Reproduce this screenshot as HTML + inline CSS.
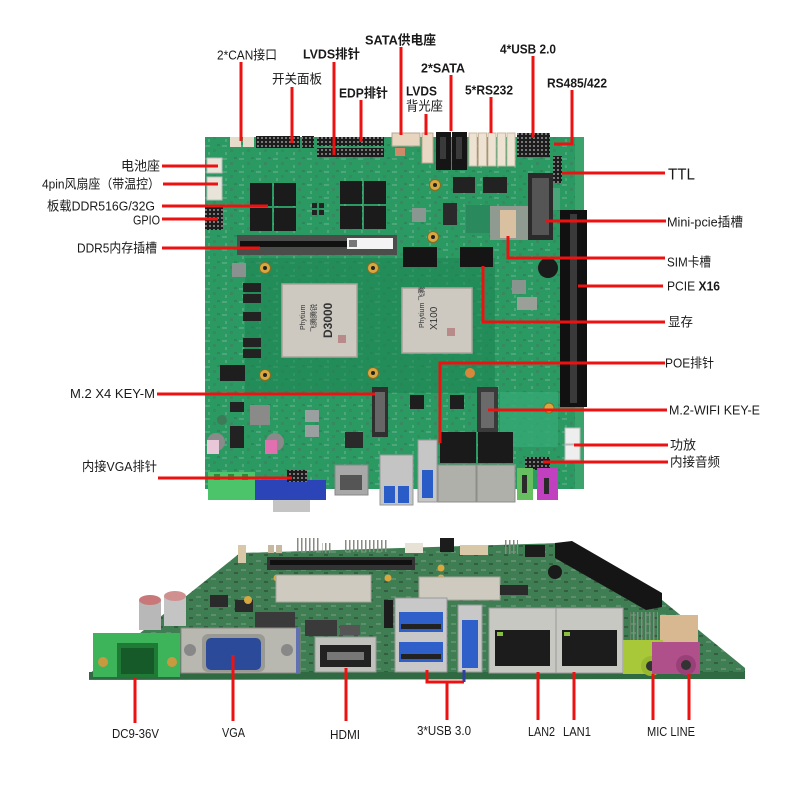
<!DOCTYPE html>
<html><head><meta charset="utf-8">
<style>
html,body{margin:0;padding:0;background:#fff;}
svg{display:block;}
text{font-family:"Liberation Sans","Noto Sans CJK SC",sans-serif;fill:#1a1a1a;font-size:13px;}
.b{font-weight:bold;}
</style></head><body>
<svg width="800" height="800" viewBox="0 0 800 800" xmlns="http://www.w3.org/2000/svg">
<defs>
<pattern id="tex" width="17" height="13" patternUnits="userSpaceOnUse">
 <rect x="1" y="2" width="5" height="2" fill="#8fbcaa" opacity=".35"/>
 <rect x="9" y="6" width="3" height="3" fill="#4e6e62" opacity=".4"/>
 <rect x="4" y="9" width="2" height="3" fill="#b8d0c4" opacity=".25"/>
 <rect x="13" y="1" width="3" height="2" fill="#3f5d52" opacity=".35"/>
</pattern>
<pattern id="tex2" width="15" height="9" patternUnits="userSpaceOnUse">
 <rect x="1" y="2" width="5" height="2" fill="#8aa896" opacity=".4"/>
 <rect x="9" y="5" width="4" height="2" fill="#2a3e32" opacity=".5"/>
</pattern>
<pattern id="pins" width="4" height="4" patternUnits="userSpaceOnUse"><rect width="4" height="4" fill="#1c1c1c"/><rect x="1" y="1" width="2" height="2" fill="#777"/></pattern>
<pattern id="vp" width="4" height="10" patternUnits="userSpaceOnUse"><rect width="4" height="10" fill="none"/><rect x="1" y="0" width="1.5" height="10" fill="#8a8a80"/></pattern>
</defs>

<!-- ================= TOP BOARD ================= -->
<rect x="205" y="137" width="379" height="352" fill="#2a9a62"/>
<rect x="205" y="137" width="379" height="352" fill="url(#tex)"/>
<rect x="245" y="258" width="250" height="135" fill="#1c8450" opacity="0.55"/>
<rect x="500" y="392" width="58" height="55" fill="#35a874" opacity="0.8"/>
<rect x="575" y="137" width="9" height="352" fill="#3aa46c"/>
<rect x="542" y="188" width="18" height="22" fill="#4aa47a"/>

<!-- top headers -->
<rect x="230" y="137" width="11" height="10" fill="#e6dccb"/>
<rect x="243" y="137" width="11" height="10" fill="#e6dccb"/>
<rect x="256" y="136" width="44" height="12" fill="url(#pins)"/>
<rect x="302" y="136" width="12" height="12" fill="url(#pins)"/>
<rect x="317" y="137" width="67" height="9" fill="url(#pins)"/>
<rect x="317" y="148" width="67" height="9" fill="url(#pins)"/>
<rect x="392" y="133" width="28" height="13" fill="#e8d5bf" stroke="#b8a58f" stroke-width="1"/>
<rect x="395" y="148" width="10" height="8" fill="#d08a6a"/>
<rect x="422" y="133" width="11" height="30" fill="#e8d8c4" stroke="#bba890" stroke-width="1"/>
<rect x="436" y="132" width="15" height="38" fill="#151515"/>
<rect x="440" y="137" width="6" height="22" fill="#3a3a3a"/>
<rect x="452" y="132" width="15" height="38" fill="#151515"/>
<rect x="456" y="137" width="6" height="22" fill="#3a3a3a"/>
<rect x="469" y="133" width="8" height="33" fill="#eee3d3" stroke="#c8b8a0" stroke-width="1"/>
<rect x="478.5" y="133" width="8" height="33" fill="#eee3d3" stroke="#c8b8a0" stroke-width="1"/>
<rect x="488" y="133" width="8" height="33" fill="#eee3d3" stroke="#c8b8a0" stroke-width="1"/>
<rect x="497.5" y="133" width="8" height="33" fill="#eee3d3" stroke="#c8b8a0" stroke-width="1"/>
<rect x="507" y="133" width="8" height="33" fill="#eee3d3" stroke="#c8b8a0" stroke-width="1"/>
<rect x="517" y="133" width="33" height="24" fill="url(#pins)"/>
<rect x="553" y="156" width="9" height="27" fill="url(#pins)"/>

<!-- left connectors -->
<rect x="207" y="158" width="15" height="15" fill="#e9e4da" stroke="#bbb" stroke-width="1"/>
<rect x="207" y="177" width="15" height="23" fill="#e9e4da" stroke="#bbb" stroke-width="1"/>
<rect x="205" y="207" width="18" height="23" fill="url(#pins)"/>

<!-- DDR chips -->
<rect x="250" y="183" width="22" height="23" fill="#1b1b1b"/>
<rect x="274" y="183" width="22" height="23" fill="#1b1b1b"/>
<rect x="250" y="208" width="22" height="23" fill="#1b1b1b"/>
<rect x="274" y="208" width="22" height="23" fill="#1b1b1b"/>
<rect x="340" y="181" width="22" height="23" fill="#1b1b1b"/>
<rect x="364" y="181" width="22" height="23" fill="#1b1b1b"/>
<rect x="340" y="206" width="22" height="23" fill="#1b1b1b"/>
<rect x="364" y="206" width="22" height="23" fill="#1b1b1b"/>
<rect x="312" y="203" width="5" height="5" fill="#222"/><rect x="319" y="203" width="5" height="5" fill="#222"/>
<rect x="312" y="210" width="5" height="5" fill="#222"/><rect x="319" y="210" width="5" height="5" fill="#222"/>
<rect x="453" y="177" width="22" height="16" fill="#222"/>
<rect x="483" y="177" width="24" height="16" fill="#222"/>
<rect x="443" y="203" width="14" height="22" fill="#2a2a2a"/>
<rect x="412" y="208" width="14" height="14" fill="#8a9690"/>
<rect x="466" y="205" width="24" height="28" fill="#2a8a5e"/>

<!-- DIMM slot -->
<rect x="237" y="235" width="160" height="20" fill="#4a4d4a"/>
<rect x="240" y="241" width="153" height="6" fill="#111"/>
<rect x="347" y="238" width="46" height="11" fill="#f4f4f4"/>
<rect x="349" y="240" width="8" height="7" fill="#777"/>

<!-- mini pcie / sim / pcie -->
<rect x="528" y="173" width="25" height="67" fill="#2a2a2a"/>
<rect x="532" y="178" width="17" height="57" fill="#555"/>
<rect x="490" y="206" width="38" height="34" fill="#8f9a90"/>
<rect x="500" y="210" width="16" height="28" fill="#d8c0a0"/>
<rect x="560" y="210" width="27" height="197" fill="#111"/>
<rect x="570" y="214" width="7" height="189" fill="#3a3a3a"/>
<circle cx="548" cy="268" r="10" fill="#1a1a1a"/>

<!-- graphics memory -->
<rect x="403" y="247" width="34" height="20" fill="#151515"/>
<rect x="460" y="247" width="33" height="20" fill="#151515"/>
<rect x="512" y="280" width="14" height="14" fill="#8a948e"/>
<rect x="517" y="297" width="20" height="13" fill="#9aa098"/>

<!-- CPUs -->
<rect x="282" y="284" width="75" height="73" fill="#cdc9c1" stroke="#a8a49c" stroke-width="1.5"/>
<text transform="translate(305,330) rotate(-90)" style="font-size:7px;fill:#333">Phytium</text>
<text transform="translate(316,332) rotate(-90)" style="font-size:7px;fill:#333">飞腾腾锐</text>
<text transform="translate(332,338) rotate(-90)" style="font-size:12px;fill:#333;font-weight:bold">D3000</text>
<rect x="338" y="335" width="8" height="8" fill="#b88a8a"/>
<rect x="402" y="288" width="70" height="65" fill="#cdc9c1" stroke="#a8a49c" stroke-width="1.5"/>
<text transform="translate(424,328) rotate(-90)" style="font-size:7px;fill:#333">Phytium 飞腾</text>
<text transform="translate(437,330) rotate(-90)" style="font-size:10px;fill:#333">X100</text>
<rect x="447" y="328" width="8" height="8" fill="#b88a8a"/>

<!-- gold holes -->
<g fill="#d8a840" stroke="#8a6a20" stroke-width="1">
<circle cx="265" cy="268" r="5.5"/><circle cx="373" cy="268" r="5.5"/>
<circle cx="265" cy="375" r="5.5"/><circle cx="373" cy="373" r="5.5"/>
<circle cx="435" cy="185" r="5.5"/><circle cx="433" cy="237" r="5.5"/>
<circle cx="549" cy="408" r="5"/>
</g>
<g fill="#222"><circle cx="265" cy="268" r="2"/><circle cx="373" cy="268" r="2"/><circle cx="265" cy="375" r="2"/><circle cx="373" cy="373" r="2"/><circle cx="435" cy="185" r="2"/><circle cx="433" cy="237" r="2"/></g>

<!-- left side parts -->
<rect x="243" y="283" width="18" height="9" fill="#222"/>
<rect x="243" y="294" width="18" height="9" fill="#222"/>
<rect x="243" y="312" width="18" height="9" fill="#222"/>
<rect x="243" y="338" width="18" height="9" fill="#222"/>
<rect x="243" y="349" width="18" height="9" fill="#222"/>
<rect x="220" y="365" width="25" height="16" fill="#1e1e1e"/>
<rect x="232" y="263" width="14" height="14" fill="#8a9290"/>
<rect x="250" y="405" width="20" height="20" fill="#8a8a88"/>
<rect x="230" y="402" width="14" height="10" fill="#222"/>
<rect x="230" y="426" width="14" height="22" fill="#222"/>
<rect x="305" y="410" width="14" height="12" fill="#9aa0a0"/>
<rect x="305" y="425" width="14" height="12" fill="#9aa0a0"/>
<rect x="345" y="432" width="18" height="16" fill="#2a2a2a"/>
<circle cx="216" cy="442" r="9" fill="#8a8a8a"/>
<rect x="207" y="440" width="12" height="14" fill="#e8c8d8"/>
<circle cx="275" cy="442" r="9" fill="#8a8a8a"/>
<rect x="265" y="440" width="12" height="14" fill="#e070b0"/>
<circle cx="222" cy="420" r="5" fill="#3c7a58"/>

<!-- M.2 slots -->
<rect x="372" y="387" width="16" height="50" fill="#2f2f2f"/>
<rect x="375" y="392" width="10" height="40" fill="#666"/>
<rect x="477" y="387" width="21" height="45" fill="#3a3a3a"/>
<rect x="481" y="392" width="13" height="36" fill="#6a6a6a"/>
<rect x="410" y="395" width="14" height="14" fill="#1e1e1e"/>
<rect x="450" y="395" width="14" height="14" fill="#1e1e1e"/>
<circle cx="470" cy="373" r="5" fill="#d8883a"/>

<!-- bottom edge top-view connectors -->
<rect x="440" y="432" width="36" height="31" fill="#1a1a1a"/>
<rect x="478" y="432" width="35" height="31" fill="#1a1a1a"/>
<rect x="438" y="465" width="38" height="37" fill="#b0b0aa" stroke="#8e8e88" stroke-width="1"/>
<rect x="477" y="465" width="38" height="37" fill="#b0b0aa" stroke="#8e8e88" stroke-width="1"/>
<rect x="565" y="428" width="15" height="16" fill="#eee" stroke="#bbb" stroke-width="1"/>
<rect x="565" y="445" width="15" height="15" fill="#eee" stroke="#bbb" stroke-width="1"/>
<rect x="525" y="457" width="25" height="13" fill="url(#pins)"/>
<rect x="517" y="468" width="16" height="32" fill="#66c060"/>
<rect x="522" y="475" width="5" height="18" fill="#2a2a2a"/>
<rect x="537" y="468" width="21" height="32" fill="#c040c0"/>
<rect x="544" y="478" width="5" height="16" fill="#2a2a2a"/>
<rect x="418" y="440" width="19" height="62" fill="#c6c6c6" stroke="#999" stroke-width="1"/>
<rect x="422" y="470" width="11" height="28" fill="#2a5cc8"/>
<rect x="380" y="455" width="33" height="50" fill="#c4c4c4" stroke="#999" stroke-width="1"/>
<rect x="384" y="486" width="11" height="17" fill="#2a5cc8"/>
<rect x="398" y="486" width="11" height="17" fill="#2a5cc8"/>
<rect x="335" y="465" width="33" height="30" fill="#a8a8a8" stroke="#888" stroke-width="1"/>
<rect x="340" y="475" width="22" height="15" fill="#555"/>
<rect x="255" y="480" width="71" height="20" fill="#2b45b8"/>
<rect x="273" y="500" width="37" height="12" fill="#c4c4c4"/>
<rect x="287" y="470" width="20" height="12" fill="url(#pins)"/>
<rect x="208" y="472" width="47" height="28" fill="#4cc46a"/>
<rect x="214" y="474" width="6" height="6" fill="#2a8a3a"/><rect x="228" y="474" width="6" height="6" fill="#2a8a3a"/><rect x="242" y="474" width="6" height="6" fill="#2a8a3a"/>

<!-- ================= BOTTOM BOARD (perspective) ================= -->
<polygon points="89,674 240,553 560,543 662,600 745,668 745,679 89,680" fill="#3f7d52"/>
<polygon points="89,674 240,553 560,543 662,600 745,668 745,679 89,680" fill="url(#tex2)"/>
<rect x="89" y="672" width="656" height="7" fill="#2f6a42"/>
<!-- back headers -->
<rect x="238" y="545" width="8" height="18" fill="#d8c8a8"/>
<rect x="268" y="545" width="6" height="8" fill="#c8b8a0"/><rect x="276" y="545" width="6" height="8" fill="#c8b8a0"/>
<rect x="297" y="538" width="22" height="14" fill="url(#vp)"/>
<rect x="322" y="543" width="10" height="10" fill="url(#vp)"/>
<rect x="345" y="540" width="42" height="12" fill="url(#vp)"/>
<rect x="405" y="543" width="18" height="10" fill="#e8e2d6"/>
<rect x="440" y="538" width="14" height="14" fill="#1c1c1c"/>
<rect x="460" y="545" width="28" height="10" fill="#d8c8a8"/>
<rect x="504" y="540" width="14" height="14" fill="url(#vp)"/>
<rect x="525" y="545" width="20" height="12" fill="#1c1c1c"/>
<circle cx="555" cy="572" r="7" fill="#1a1a1a"/>
<!-- pcie slot -->
<polygon points="555,543 572,541 662,593 662,607 646,610 555,558" fill="#151515"/>
<!-- dimm -->
<rect x="267" y="557" width="148" height="13" fill="#333"/>
<rect x="270" y="560" width="142" height="5" fill="#111"/>
<circle cx="277" cy="578" r="3.5" fill="#d8a840"/><circle cx="388" cy="578" r="3.5" fill="#d8a840"/>
<circle cx="441" cy="568" r="3.5" fill="#d8a840"/><circle cx="441" cy="578" r="3.5" fill="#d8a840"/>
<!-- chips -->
<rect x="276" y="575" width="95" height="27" fill="#cfcac0" stroke="#a8a49c" stroke-width="1"/>
<rect x="419" y="577" width="81" height="23" fill="#cfcac0" stroke="#a8a49c" stroke-width="1"/>
<rect x="500" y="585" width="28" height="10" fill="#2a2a2a"/>
<rect x="210" y="595" width="18" height="12" fill="#2a2a2a"/>
<rect x="235" y="600" width="18" height="12" fill="#2a2a2a"/>
<rect x="255" y="612" width="40" height="16" fill="#3a3a3a"/>
<rect x="305" y="620" width="32" height="16" fill="#3a3a3a"/>
<rect x="340" y="625" width="20" height="10" fill="#555"/>
<rect x="384" y="600" width="9" height="28" fill="#1c1c1c"/>
<circle cx="248" cy="600" r="4" fill="#d8a840"/>
<!-- capacitors -->
<rect x="139" y="600" width="22" height="30" fill="#b8b8b8"/>
<ellipse cx="150" cy="600" rx="11" ry="5" fill="#c87878"/>
<rect x="164" y="596" width="22" height="30" fill="#c4c4c4"/>
<ellipse cx="175" cy="596" rx="11" ry="5" fill="#d09090"/>
<!-- terminal block -->
<rect x="93" y="633" width="87" height="44" fill="#3db35a"/>
<rect x="117" y="643" width="41" height="34" fill="#1f7a35"/>
<rect x="121" y="648" width="33" height="26" fill="#155a28"/>
<circle cx="103" cy="662" r="5" fill="#c89a40"/><circle cx="172" cy="662" r="5" fill="#c89a40"/>
<!-- VGA -->
<rect x="181" y="628" width="119" height="45" fill="#b8b8b0" stroke="#8a8a84" stroke-width="1"/>
<rect x="296" y="628" width="4" height="45" fill="#6070b0"/>
<rect x="202" y="634" width="63" height="38" rx="6" fill="#9a9a94"/>
<rect x="206" y="638" width="55" height="32" rx="5" fill="#2b4a9a"/>
<circle cx="190" cy="650" r="6" fill="#888"/><circle cx="287" cy="650" r="6" fill="#888"/>
<!-- HDMI -->
<rect x="315" y="637" width="61" height="35" fill="#c0c0bc" stroke="#999" stroke-width="1"/>
<rect x="320" y="645" width="51" height="22" fill="#222"/>
<rect x="327" y="652" width="37" height="8" fill="#777"/>
<!-- USB stack -->
<rect x="395" y="598" width="52" height="74" fill="#c8c8c8" stroke="#999" stroke-width="1"/>
<rect x="399" y="612" width="44" height="20" fill="#2f5fc8"/>
<rect x="399" y="642" width="44" height="20" fill="#2f5fc8"/>
<rect x="401" y="624" width="40" height="5" fill="#222"/>
<rect x="401" y="654" width="40" height="5" fill="#222"/>
<rect x="458" y="605" width="24" height="67" fill="#c8c8c8" stroke="#999" stroke-width="1"/>
<rect x="462" y="620" width="16" height="48" fill="#2f5fc8"/>
<!-- RJ45 -->
<rect x="489" y="608" width="67" height="65" fill="#c8c8c2" stroke="#999" stroke-width="1"/>
<rect x="556" y="608" width="67" height="65" fill="#c8c8c2" stroke="#999" stroke-width="1"/>
<rect x="495" y="630" width="55" height="36" fill="#1c1c1c"/>
<rect x="562" y="630" width="55" height="36" fill="#1c1c1c"/>
<rect x="497" y="632" width="6" height="4" fill="#8ac040"/><rect x="564" y="632" width="6" height="4" fill="#8ac040"/>
<!-- audio -->
<rect x="660" y="615" width="38" height="30" fill="#d8b890"/>
<rect x="630" y="612" width="28" height="28" fill="url(#vp)"/>
<rect x="623" y="640" width="40" height="34" fill="#a8c83a"/>
<circle cx="651" cy="666" r="10" fill="#98b830"/><circle cx="651" cy="666" r="5" fill="#333"/>
<rect x="652" y="642" width="48" height="32" fill="#b0508a"/>
<circle cx="686" cy="665" r="10" fill="#9a4078"/><circle cx="686" cy="665" r="5" fill="#333"/>

<!-- ================= LEADER LINES ================= -->
<g stroke="#ee1111" stroke-width="3" fill="none">
<line x1="241" y1="62" x2="241" y2="141"/>
<line x1="292" y1="87" x2="292" y2="143"/>
<line x1="334" y1="62" x2="334" y2="155"/>
<line x1="361" y1="100" x2="361" y2="142"/>
<line x1="401" y1="47" x2="401" y2="135"/>
<line x1="426" y1="114" x2="426" y2="135"/>
<line x1="451" y1="75" x2="451" y2="131"/>
<line x1="491" y1="97" x2="491" y2="133"/>
<line x1="533" y1="56" x2="533" y2="138"/>
<polyline points="572,90 572,144 554,144"/>
<line x1="162" y1="166" x2="218" y2="166"/>
<line x1="163" y1="184" x2="218" y2="184"/>
<line x1="162" y1="206" x2="268" y2="206"/>
<line x1="162" y1="219" x2="218" y2="219"/>
<line x1="162" y1="248" x2="260" y2="248"/>
<line x1="157" y1="394" x2="375" y2="394"/>
<line x1="158" y1="478" x2="292" y2="478"/>
<line x1="562" y1="173" x2="665" y2="173"/>
<line x1="546" y1="221" x2="666" y2="221"/>
<polyline points="508,236 508,258 665,258"/>
<line x1="578" y1="286" x2="663" y2="286"/>
<polyline points="483,266 483,322 665,322"/>
<polyline points="440,443 440,363 665,363"/>
<line x1="488" y1="410" x2="667" y2="410"/>
<line x1="574" y1="445" x2="668" y2="445"/>
<line x1="543" y1="462" x2="668" y2="462"/>
<line x1="135" y1="677" x2="135" y2="723"/>
<line x1="233" y1="655" x2="233" y2="721"/>
<line x1="346" y1="668" x2="346" y2="721"/>
<polyline points="427,670 427,682 464,682"/>
<line x1="447" y1="682" x2="447" y2="720"/>
<line x1="538" y1="672" x2="538" y2="720"/>
<line x1="574" y1="672" x2="574" y2="720"/>
<line x1="653" y1="674" x2="653" y2="720"/>
<line x1="689" y1="674" x2="689" y2="720"/>
</g>
<line x1="464" y1="670" x2="464" y2="682" stroke="#3040a0" stroke-width="3"/>

<!-- ================= LABELS ================= -->
<text x="217" y="59.5" textLength="60" lengthAdjust="spacingAndGlyphs">2*CAN接口</text>
<text x="272" y="83.5" textLength="50" lengthAdjust="spacingAndGlyphs">开关面板</text>
<text class="b" x="303" y="58.5" textLength="57" lengthAdjust="spacingAndGlyphs">LVDS排针</text>
<text class="b" x="339" y="97.5" textLength="49" lengthAdjust="spacingAndGlyphs">EDP排针</text>
<text class="b" x="365" y="44.5" textLength="71" lengthAdjust="spacingAndGlyphs">SATA供电座</text>
<text class="b" x="421" y="72.5" textLength="44" lengthAdjust="spacingAndGlyphs">2*SATA</text>
<text class="b" x="406" y="95.5" textLength="31" lengthAdjust="spacingAndGlyphs">LVDS</text>
<text x="406" y="110.5" textLength="37" lengthAdjust="spacingAndGlyphs">背光座</text>
<text class="b" x="465" y="94.5" textLength="48" lengthAdjust="spacingAndGlyphs">5*RS232</text>
<text class="b" x="500" y="53.5" textLength="56" lengthAdjust="spacingAndGlyphs">4*USB 2.0</text>
<text class="b" x="547" y="87.5" textLength="60" lengthAdjust="spacingAndGlyphs">RS485/422</text>
<text x="121" y="170.5" textLength="39" lengthAdjust="spacingAndGlyphs">电池座</text>
<text x="42" y="188.5" textLength="118" lengthAdjust="spacingAndGlyphs">4pin风扇座（带温控）</text>
<text x="47" y="210.5" textLength="108" lengthAdjust="spacingAndGlyphs">板载DDR516G/32G</text>
<text x="133" y="224.5" textLength="27" lengthAdjust="spacingAndGlyphs">GPIO</text>
<text x="77" y="252.5" textLength="80" lengthAdjust="spacingAndGlyphs">DDR5内存插槽</text>
<text x="70" y="398" textLength="85" lengthAdjust="spacingAndGlyphs">M.2  X4  KEY-M</text>
<text x="82" y="471" textLength="75" lengthAdjust="spacingAndGlyphs">内接VGA排针</text>
<text x="668" y="179.5" style="font-size:16px" textLength="27" lengthAdjust="spacingAndGlyphs">TTL</text>
<text x="667" y="226.5" textLength="76" lengthAdjust="spacingAndGlyphs">Mini-pcie插槽</text>
<text x="667" y="266.5" textLength="44" lengthAdjust="spacingAndGlyphs">SIM卡槽</text>
<text x="667" y="290.5" textLength="53" lengthAdjust="spacingAndGlyphs">PCIE <tspan class="b">X16</tspan></text>
<text x="668" y="326.5" textLength="25" lengthAdjust="spacingAndGlyphs">显存</text>
<text x="665" y="367.5" textLength="49" lengthAdjust="spacingAndGlyphs">POE排针</text>
<text x="669" y="414.5" textLength="91" lengthAdjust="spacingAndGlyphs">M.2-WIFI  KEY-E</text>
<text x="670" y="449.5" textLength="26" lengthAdjust="spacingAndGlyphs">功放</text>
<text x="670" y="466.5" textLength="50" lengthAdjust="spacingAndGlyphs">内接音频</text>
<text x="112" y="738" textLength="47" lengthAdjust="spacingAndGlyphs">DC9-36V</text>
<text x="222" y="737" textLength="23" lengthAdjust="spacingAndGlyphs">VGA</text>
<text x="330" y="739" textLength="30" lengthAdjust="spacingAndGlyphs">HDMI</text>
<text x="417" y="735" textLength="54" lengthAdjust="spacingAndGlyphs">3*USB 3.0</text>
<text x="528" y="736" textLength="27" lengthAdjust="spacingAndGlyphs">LAN2</text>
<text x="563" y="736" textLength="28" lengthAdjust="spacingAndGlyphs">LAN1</text>
<text x="647" y="736" textLength="48" lengthAdjust="spacingAndGlyphs">MIC LINE</text>
</svg>
</body></html>
